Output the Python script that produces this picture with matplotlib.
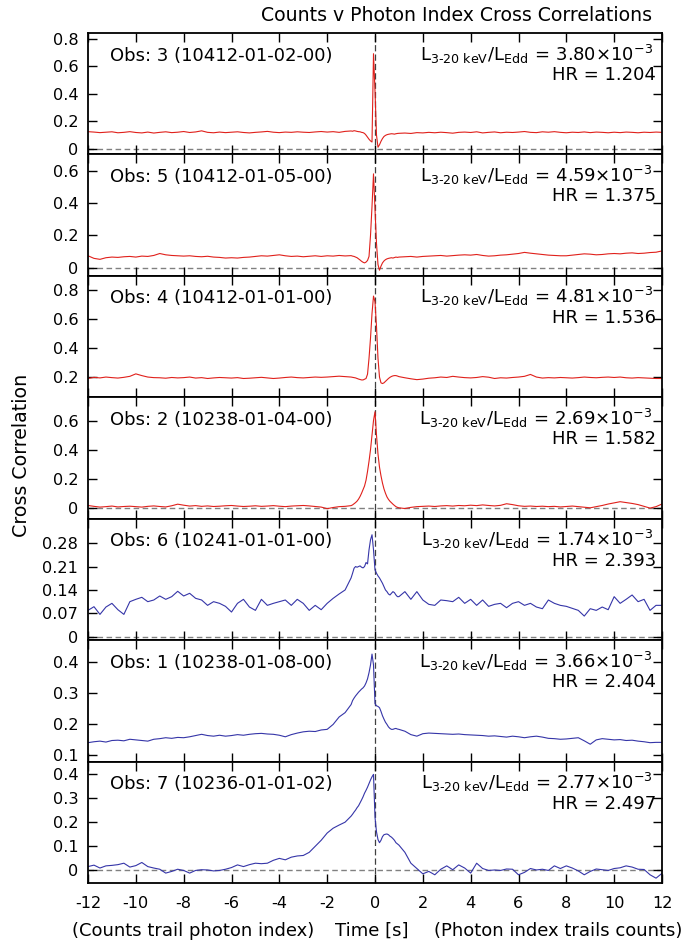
import numpy as np
import matplotlib
matplotlib.use('Agg')
import matplotlib.pyplot as plt

plt.rcParams['font.family'] = ['DejaVu Sans']
plt.rcParams['axes.unicode_minus'] = False

# time lags [s]: coarse outside +-1 s, fine around the peak
t_left = np.arange(-12, -1, 0.25)
t_core = np.arange(-1, 1.0001, 0.0625)
t_right = np.arange(1.25, 12.001, 0.25)
lag = np.concatenate([t_left, t_core, t_right])

obs_labels = ['Obs: 3 (10412-01-02-00)', 'Obs: 5 (10412-01-05-00)',
              'Obs: 4 (10412-01-01-00)', 'Obs: 2 (10238-01-04-00)',
              'Obs: 6 (10241-01-01-00)', 'Obs: 1 (10238-01-08-00)',
              'Obs: 7 (10236-01-01-02)']
lum = ['3.80', '4.59', '4.81', '2.69', '1.74', '3.66', '2.77']
hr = ['1.204', '1.375', '1.536', '1.582', '2.393', '2.404', '2.497']

cc_obs3 = [0.125, 0.122, 0.118, 0.121, 0.124, 0.117, 0.120, 0.125,
           0.119, 0.116, 0.122, 0.115, 0.120, 0.124, 0.118, 0.121,
           0.126, 0.119, 0.123, 0.131, 0.120, 0.117, 0.122, 0.118,
           0.121, 0.124, 0.119, 0.116, 0.120, 0.123, 0.127, 0.121,
           0.118, 0.122, 0.120, 0.124, 0.121, 0.119, 0.123, 0.126,
           0.122, 0.125, 0.120, 0.127,
           0.130, 0.128, 0.132, 0.130, 0.127, 0.125, 0.124, 0.120,
           0.118, 0.112, 0.100, 0.085, 0.070, 0.058, 0.050, 0.690,
           0.420, 0.100, 0.012, 0.030, 0.055, 0.075, 0.090, 0.098,
           0.103, 0.106, 0.108, 0.110, 0.109, 0.107, 0.110, 0.112,
           0.113,
           0.115, 0.112, 0.118,
           0.116, 0.120, 0.117, 0.121, 0.118, 0.114, 0.120, 0.122,
           0.119, 0.124, 0.116, 0.120, 0.123, 0.117, 0.121, 0.119,
           0.122, 0.126, 0.120, 0.118, 0.124, 0.121, 0.125, 0.120,
           0.117, 0.121, 0.119, 0.123, 0.118, 0.122, 0.120, 0.117,
           0.121, 0.118, 0.122, 0.120, 0.117, 0.121, 0.119, 0.122,
           0.120]

cc_obs5 = [0.074, 0.058, 0.052, 0.062, 0.066, 0.064, 0.068, 0.070,
           0.066, 0.072, 0.070, 0.076, 0.088, 0.080, 0.076, 0.074,
           0.072, 0.074, 0.070, 0.068, 0.071, 0.066, 0.064, 0.060,
           0.062, 0.060, 0.064, 0.066, 0.070, 0.074, 0.072, 0.076,
           0.080, 0.074, 0.070, 0.072, 0.068, 0.071, 0.074, 0.070,
           0.074, 0.072, 0.076, 0.073,
           0.075, 0.072, 0.070, 0.066, 0.062, 0.055, 0.048, 0.040,
           0.034, 0.030, 0.035, 0.045, 0.070, 0.200, 0.380, 0.580,
           0.360, 0.150, 0.020, -0.015, 0.010, 0.030, 0.042, 0.050,
           0.055, 0.058, 0.060, 0.062, 0.060, 0.063, 0.066, 0.064,
           0.066,
           0.068, 0.070, 0.066,
           0.070, 0.072, 0.074, 0.076, 0.072, 0.075, 0.078, 0.080,
           0.078, 0.082, 0.076, 0.072, 0.074, 0.078, 0.080, 0.084,
           0.088, 0.095, 0.090, 0.086, 0.082, 0.078, 0.076, 0.074,
           0.074, 0.078, 0.082, 0.086, 0.084, 0.080, 0.082, 0.086,
           0.088, 0.086, 0.090, 0.092, 0.088, 0.090, 0.094, 0.096,
           0.104]

cc_obs4 = [0.190, 0.198, 0.194, 0.200, 0.196, 0.193, 0.198, 0.205,
           0.222, 0.210, 0.200, 0.196, 0.195, 0.192, 0.197, 0.194,
           0.196, 0.200, 0.193, 0.196, 0.190, 0.194, 0.197, 0.195,
           0.193, 0.196, 0.190, 0.192, 0.195, 0.198, 0.194, 0.190,
           0.193, 0.197, 0.200, 0.196, 0.194, 0.197, 0.200, 0.198,
           0.200, 0.203, 0.206, 0.203,
           0.200, 0.198, 0.196, 0.194, 0.190, 0.186, 0.183, 0.180,
           0.180, 0.185, 0.190, 0.220, 0.330, 0.470, 0.640, 0.760,
           0.720, 0.550, 0.330, 0.200, 0.160, 0.155, 0.160, 0.170,
           0.180, 0.190, 0.198, 0.204, 0.208, 0.210, 0.210, 0.207,
           0.203,
           0.195, 0.188, 0.182,
           0.186, 0.192, 0.195, 0.200, 0.197, 0.205, 0.200, 0.196,
           0.194, 0.197, 0.203, 0.199, 0.190, 0.195, 0.193, 0.197,
           0.200, 0.205, 0.218, 0.200, 0.193, 0.196, 0.194, 0.197,
           0.195, 0.193, 0.196, 0.200, 0.197, 0.195, 0.198, 0.200,
           0.197, 0.200, 0.195, 0.193, 0.196, 0.194, 0.192, 0.190,
           0.190]

cc_obs2 = [0.016, 0.010, 0.005, 0.008, 0.012, 0.006, 0.009, 0.011,
           0.008, 0.005, 0.010, 0.013, 0.009, 0.006, 0.014, 0.025,
           0.018, 0.012, 0.015, 0.010, 0.013, 0.009, 0.011, 0.014,
           0.016, 0.012, 0.009, 0.011, 0.014, 0.010, 0.012, 0.015,
           0.011, 0.008, 0.012, 0.014, 0.016, 0.013, 0.009, 0.005,
           -0.006, 0.002, 0.008, 0.010,
           0.015, 0.020, 0.028, 0.036, 0.046, 0.060, 0.078, 0.100,
           0.125, 0.150, 0.190, 0.250, 0.320, 0.400, 0.500, 0.600,
           0.660, 0.500, 0.370, 0.280, 0.220, 0.170, 0.130, 0.100,
           0.075, 0.058, 0.045, 0.035, 0.025, 0.016, 0.008, 0.003,
           0.000,
           -0.005, 0.003, 0.008,
           0.010, 0.012, 0.009, 0.013, 0.015, 0.012, 0.016, 0.014,
           0.018, 0.015, 0.020, 0.016, 0.013, 0.017, 0.028, 0.022,
           0.014, 0.010, 0.012, 0.009, 0.011, 0.008, 0.010, 0.006,
           0.009, 0.012, 0.008, 0.004, 0.000, 0.008, 0.016, 0.026,
           0.034, 0.042, 0.036, 0.030, 0.022, 0.010, -0.002, 0.008,
           0.026]

cc_obs6 = [0.079, 0.090, 0.067, 0.089, 0.100, 0.081, 0.067, 0.105,
           0.112, 0.118, 0.105, 0.110, 0.122, 0.112, 0.120, 0.136,
           0.122, 0.130, 0.115, 0.110, 0.094, 0.105, 0.100, 0.091,
           0.074, 0.100, 0.112, 0.089, 0.079, 0.112, 0.094, 0.100,
           0.105, 0.110, 0.094, 0.112, 0.100, 0.079, 0.094, 0.081,
           0.100, 0.115, 0.128, 0.140,
           0.176, 0.190, 0.205, 0.210, 0.208, 0.210, 0.212, 0.208,
           0.206, 0.210, 0.222, 0.218, 0.260, 0.290, 0.305, 0.260,
           0.200, 0.190, 0.182, 0.176, 0.168, 0.160, 0.150, 0.140,
           0.135, 0.128, 0.125, 0.130, 0.135, 0.132, 0.125, 0.120,
           0.120,
           0.135, 0.112, 0.135,
           0.110, 0.097, 0.094, 0.110, 0.108, 0.105, 0.118, 0.100,
           0.112, 0.094, 0.110, 0.091, 0.097, 0.100, 0.087, 0.100,
           0.105, 0.094, 0.100, 0.089, 0.084, 0.110, 0.100, 0.094,
           0.091, 0.085, 0.079, 0.062, 0.084, 0.079, 0.089, 0.081,
           0.120, 0.100, 0.112, 0.125, 0.105, 0.112, 0.079, 0.094,
           0.094]

cc_obs1 = [0.139, 0.142, 0.144, 0.141, 0.146, 0.147, 0.145, 0.150,
           0.148, 0.146, 0.144, 0.150, 0.152, 0.155, 0.153, 0.156,
           0.155, 0.158, 0.162, 0.166, 0.162, 0.160, 0.163, 0.160,
           0.162, 0.165, 0.163, 0.166, 0.168, 0.169, 0.167, 0.166,
           0.163, 0.158, 0.165, 0.170, 0.174, 0.176, 0.175, 0.180,
           0.182, 0.198, 0.222, 0.236,
           0.262, 0.275, 0.283, 0.290, 0.296, 0.302, 0.307, 0.312,
           0.316, 0.322, 0.332, 0.345, 0.365, 0.390, 0.425, 0.390,
           0.265, 0.258, 0.256, 0.252, 0.240, 0.226, 0.215, 0.205,
           0.198, 0.190, 0.185, 0.182, 0.182, 0.184, 0.185, 0.183,
           0.182,
           0.176, 0.165, 0.160,
           0.168, 0.170, 0.169, 0.168, 0.167, 0.166, 0.167, 0.165,
           0.164, 0.163, 0.162, 0.160, 0.161, 0.159, 0.157, 0.160,
           0.158, 0.155, 0.158, 0.160, 0.157, 0.153, 0.152, 0.150,
           0.151, 0.153, 0.155, 0.145, 0.134, 0.148, 0.152, 0.150,
           0.148, 0.149, 0.146, 0.147, 0.144, 0.142, 0.139, 0.140,
           0.140]

cc_obs7 = [0.016, 0.022, 0.010, 0.019, 0.021, 0.024, 0.030, 0.014,
           0.020, 0.033, 0.016, 0.010, 0.005, -0.011, -0.004, 0.005,
           0.000, -0.011, 0.000, 0.003, 0.002, -0.002, 0.000, 0.005,
           0.012, 0.023, 0.016, 0.024, 0.030, 0.028, 0.030, 0.042,
           0.050, 0.044, 0.055, 0.060, 0.062, 0.075, 0.100, 0.125,
           0.155, 0.175, 0.188, 0.200,
           0.225, 0.233, 0.242, 0.250, 0.260, 0.268, 0.280, 0.292,
           0.305, 0.320, 0.332, 0.345, 0.360, 0.375, 0.388, 0.398,
           0.220, 0.160, 0.128, 0.115, 0.125, 0.140, 0.148, 0.150,
           0.151, 0.148, 0.142, 0.138, 0.132, 0.125, 0.115, 0.110,
           0.105,
           0.075, 0.030, 0.008,
           -0.014, -0.004, -0.018, 0.005, 0.019, 0.003, 0.023, 0.010,
           -0.011, 0.030, 0.008, 0.000, 0.002, 0.000, 0.006, 0.005,
           -0.018, -0.008, 0.008, 0.002, 0.005, 0.000, 0.019, 0.008,
           0.019, 0.010, -0.002, -0.018, -0.004, 0.006, 0.003, 0.000,
           0.008, 0.011, 0.019, 0.014, 0.005, 0.004, -0.018, -0.032,
           -0.012]

series = [cc_obs3, cc_obs5, cc_obs4, cc_obs2, cc_obs6, cc_obs1, cc_obs7]
colors = ['#e0201b'] * 4 + ['#3535a8'] * 3

ylims = [(-0.04, 0.84), (-0.05, 0.70), (0.06, 0.90), (-0.075, 0.76),
         (-0.01, 0.353), (0.078, 0.47), (-0.052, 0.451)]
yticks = [[0, 0.2, 0.4, 0.6, 0.8], [0, 0.2, 0.4, 0.6], [0.2, 0.4, 0.6, 0.8],
          [0, 0.2, 0.4, 0.6], [0, 0.07, 0.14, 0.21, 0.28],
          [0.1, 0.2, 0.3, 0.4], [0, 0.1, 0.2, 0.3, 0.4]]
ytick_labels = [['0', '0.2', '0.4', '0.6', '0.8'], ['0', '0.2', '0.4', '0.6'],
                ['0.2', '0.4', '0.6', '0.8'], ['0', '0.2', '0.4', '0.6'],
                ['0', '0.07', '0.14', '0.21', '0.28'],
                ['0.1', '0.2', '0.3', '0.4'], ['0', '0.1', '0.2', '0.3', '0.4']]
xticks = list(range(-12, 13, 2))

W, H = 684, 949
fig = plt.figure(figsize=(W / 100, H / 100), dpi=100)

left, right, top, bottom = 88, 662, 33, 883
ph = (bottom - top) / 7.0

for i in range(7):
    ax = fig.add_axes([left / W, 1 - (top + (i + 1) * ph) / H,
                       (right - left) / W, ph / H])
    ax.axhline(0, color='#808080', lw=1.0, dashes=(4, 2.5), zorder=1)
    ax.axvline(0, color='#404040', lw=0.9, dashes=(5, 2.5), zorder=1)
    ax.plot(lag, series[i], color=colors[i], lw=0.8, zorder=2)
    ax.set_xlim(-12, 12)
    ax.set_ylim(*ylims[i])
    ax.set_yticks(yticks[i])
    ax.set_yticklabels(ytick_labels[i])
    ax.set_xticks(xticks)
    ax.tick_params(direction='in', length=6.5, width=1.0, top=True, right=True,
                   labelsize=11.6, pad=7)
    ax.tick_params(axis='x', pad=9)
    if i < 6:
        ax.set_xticklabels([])
    for s in ax.spines.values():
        s.set_linewidth(1.3)

    ax.text(0.038, 0.773, obs_labels[i], transform=ax.transAxes,
            fontsize=13, ha='left', va='baseline')
    ax.text(0.984, 0.773,
            r'$\mathregular{L_{3\text{-}20\ keV}/L_{Edd}\,=\,' + lum[i]
            + r'{\times}10^{-3}}$',
            transform=ax.transAxes, fontsize=13, ha='right', va='baseline')
    ax.text(0.99, 0.613, 'HR = ' + hr[i], transform=ax.transAxes,
            fontsize=13, ha='right', va='baseline')

fig.text(652 / W, 1 - 20.7 / H, 'Counts v Photon Index Cross Correlations',
         fontsize=13.6, ha='right', va='baseline')
fig.text(22 / W, 1 - 455 / H, 'Cross Correlation', fontsize=13.7,
         rotation=90, ha='center', va='center')
fig.text(72 / W, 1 - 936 / H, '(Counts trail photon index)', fontsize=13,
         ha='left', va='baseline')
fig.text(372 / W, 1 - 936 / H, 'Time [s]', fontsize=13,
         ha='center', va='baseline')
fig.text(682 / W, 1 - 936 / H, '(Photon index trails counts)', fontsize=13,
         ha='right', va='baseline')

fig.savefig('out.png', dpi=100)
